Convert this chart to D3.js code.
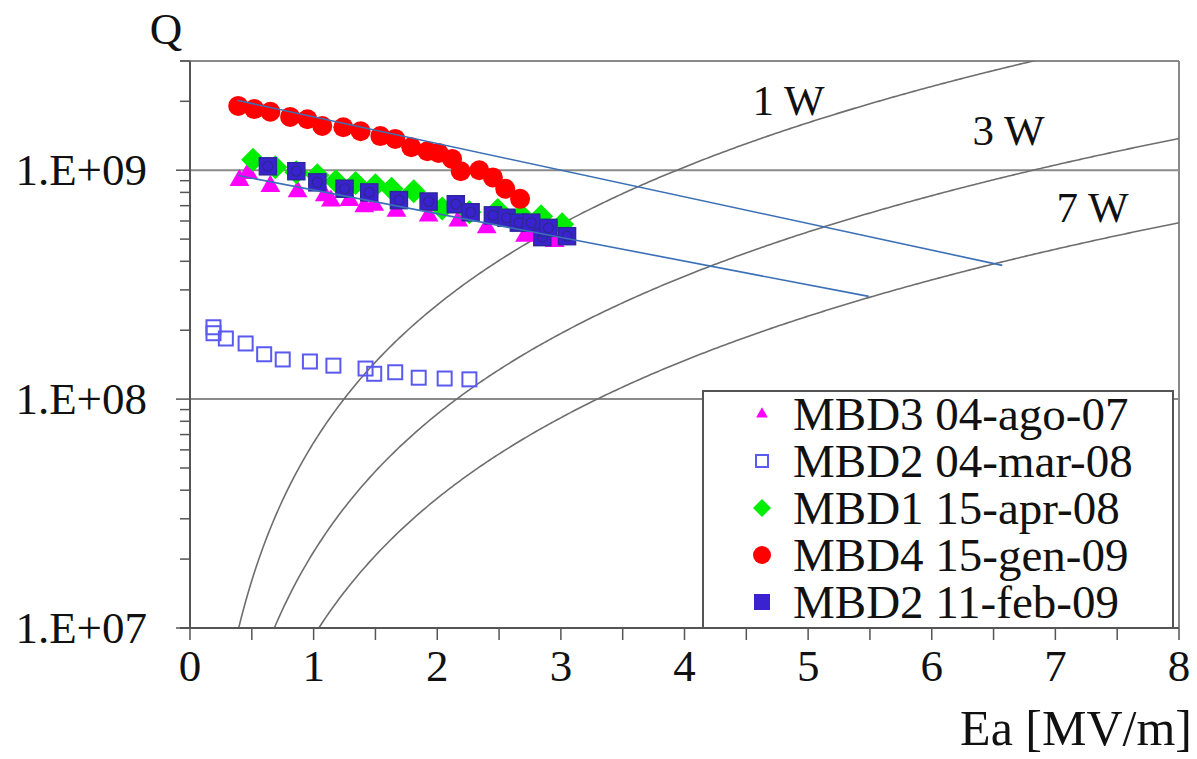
<!DOCTYPE html>
<html>
<head>
<meta charset="utf-8">
<script src="https://cdn.jsdelivr.net/npm/d3@7"></script>
<style>
  body { margin: 0; background: #fff; }
</style>
</head>
<body>
<div id="chart"></div>
<script>
// Series: [Ea (MV/m), Q]
const mbd3_ago07 = [[0.40,8.86e8],[0.47,9.5e8],[0.65,8.34e8],[0.87,7.9e8],[1.09,7.6e8],[1.14,7.2e8],[1.29,7.25e8],[1.41,6.8e8],[1.49,6.9e8],[1.67,6.5e8],[1.93,6.2e8],[2.17,5.9e8],[2.40,5.5e8],[2.71,5.05e8],[2.79,5.2e8],[2.95,4.8e8]];
const mbd2_mar08 = [[0.19,2.06e8],[0.19,1.94e8],[0.29,1.84e8],[0.45,1.75e8],[0.60,1.57e8],[0.75,1.49e8],[0.97,1.46e8],[1.16,1.40e8],[1.42,1.36e8],[1.49,1.29e8],[1.66,1.31e8],[1.85,1.24e8],[2.06,1.23e8],[2.26,1.22e8]];
const mbd1_apr08 = [[0.51,1.11e9],[0.69,1.03e9],[0.86,9.8e8],[1.03,9.5e8],[1.18,8.95e8],[1.34,8.8e8],[1.50,8.6e8],[1.63,8.3e8],[1.81,8.1e8],[2.04,6.8e8],[2.26,6.55e8],[2.49,6.7e8],[2.68,6.35e8],[2.84,6.3e8],[3.01,5.8e8]];
const mbd4_gen09 = [[0.39,1.91e9],[0.52,1.85e9],[0.65,1.80e9],[0.81,1.71e9],[0.95,1.67e9],[1.07,1.56e9],[1.24,1.54e9],[1.38,1.48e9],[1.54,1.41e9],[1.66,1.37e9],[1.79,1.26e9],[1.92,1.21e9],[2.01,1.19e9],[2.12,1.12e9],[2.19,9.9e8],[2.34,1.0e9],[2.45,9.3e8],[2.55,8.3e8],[2.67,7.5e8]];
const mbd2_feb09 = [[0.63,1.04e9],[0.86,9.9e8],[1.03,8.85e8],[1.25,8.3e8],[1.45,8.0e8],[1.69,7.4e8],[1.93,7.3e8],[2.15,7.1e8],[2.27,6.55e8],[2.45,6.35e8],[2.56,6.2e8],[2.66,5.9e8],[2.76,5.9e8],[2.85,5.1e8],[2.90,5.6e8],[3.05,5.15e8]];

// fit lines (end points)
const fitLines = [[[0.38,2.02e9],[6.57,3.84e8]], [[0.38,9.5e8],[5.49,2.81e8]]];

// iso-power curves Q = K * Ea^2 / P
const powers = [1, 3, 7];
const powerLabels = ["1 W", "3 W", "7 W"];
const K = 6.45e7;

const legendNames = ["MBD3 04-ago-07", "MBD2 04-mar-08", "MBD1 15-apr-08", "MBD4 15-gen-09", "MBD2 11-feb-09"];
const xTicks = [0, 1, 2, 3, 4, 5, 6, 7, 8];
const yTicks = [1e7, 1e8, 1e9];
const yTickLabels = ["1.E+07", "1.E+08", "1.E+09"];

const width = 1197, height = 759;
const x = d3.scaleLinear().domain([0, 8]).range([190, 1179]);
const y = d3.scaleLog().domain([1e7, 3e9]).range([628, 61]);

const svg = d3.select("#chart").append("svg")
    .attr("width", width)
    .attr("height", height)
    .attr("font-family", "'Liberation Serif', 'DejaVu Serif', 'Times New Roman', Times, serif")
    .attr("fill", "#111");

svg.append("clipPath").attr("id", "clip")
  .append("rect").attr("x", 190).attr("y", 61).attr("width", 989).attr("height", 567);

// grid lines
svg.selectAll(".grid").data([1e8, 1e9]).enter().append("line")
    .attr("x1", x(0)).attr("x2", x(8))
    .attr("y1", d => y(d)).attr("y2", d => y(d))
    .attr("stroke", "#8a8a8a").attr("stroke-width", 2);

// frame top & right
svg.append("line").attr("x1", 180).attr("x2", x(8)).attr("y1", y(3e9)).attr("y2", y(3e9))
    .attr("stroke", "#8a8a8a").attr("stroke-width", 2);
svg.append("line").attr("x1", x(8)).attr("x2", x(8)).attr("y1", y(3e9)).attr("y2", y(1e7))
    .attr("stroke", "#8a8a8a").attr("stroke-width", 2);

// power curves
const curves = svg.append("g").attr("clip-path", "url(#clip)");
powers.forEach((p, i) => {
  const e0 = Math.sqrt(1e7 * p / K);
  const pts = d3.range(e0, 8.01, 0.02).map(e => [e, K * e * e / p]);
  curves.append("path")
    .datum(pts)
    .attr("fill", "none")
    .attr("stroke", "#6e6e6e")
    .attr("stroke-width", 1.6)
    .attr("d", d3.line().x(d => x(d[0])).y(d => y(d[1])));
});

// power labels
const labelPos = [[4.55, 115], [6.33, 145], [7.01, 222]];
svg.selectAll(".plab").data(powerLabels).enter().append("text")
    .attr("x", (d, i) => x(labelPos[i][0]))
    .attr("y", (d, i) => labelPos[i][1])
    .attr("font-size", 43)
    .text(d => d);

// axes
svg.append("line").attr("x1", x(0)).attr("x2", x(0)).attr("y1", y(3e9)).attr("y2", y(1e7))
    .attr("stroke", "#555").attr("stroke-width", 2);

// y minor ticks
const minor = [];
[1e7, 1e8, 1e9].forEach(b => d3.range(2, 10).forEach(m => { if (b * m <= 3e9) minor.push(b * m); }));
svg.selectAll(".ymin").data(minor).enter().append("line")
    .attr("x1", 180).attr("x2", 190)
    .attr("y1", d => y(d)).attr("y2", d => y(d))
    .attr("stroke", "#555").attr("stroke-width", 1.5);
svg.selectAll(".ymaj").data(yTicks).enter().append("line")
    .attr("x1", 176).attr("x2", 190)
    .attr("y1", d => y(d)).attr("y2", d => y(d))
    .attr("stroke", "#555").attr("stroke-width", 1.5);
svg.selectAll(".ylab").data(yTicks).enter().append("text")
    .attr("x", 147).attr("y", d => y(d) + 15)
    .attr("text-anchor", "end")
    .attr("font-size", 45)
    .text((d, i) => yTickLabels[i]);

// x ticks
svg.selectAll(".xt").data(d3.range(0, 8.01, 0.5)).enter().append("line")
    .attr("x1", d => x(d)).attr("x2", d => x(d))
    .attr("y1", y(1e7)).attr("y2", y(1e7) + 12)
    .attr("stroke", "#555").attr("stroke-width", 1.5);
svg.selectAll(".xlab").data(xTicks).enter().append("text")
    .attr("x", d => x(d)).attr("y", 681)
    .attr("text-anchor", "middle")
    .attr("font-size", 45)
    .text(d => d);

svg.append("text").attr("x", 166).attr("y", 44).attr("text-anchor", "middle")
    .attr("font-size", 45).text("Q");
svg.append("text").attr("x", 1192).attr("y", 745).attr("text-anchor", "end")
    .attr("font-size", 50).text("Ea [MV/m]");

// marker drawers
const sym = (type, size) => d3.symbol().type(type).size(size);
const styles = [
  { data: mbd3_ago07, draw: g => g.append("path").attr("d", sym(d3.symbolTriangle, 170)()).attr("transform", "translate(0,-2)").attr("fill", "#ff00ff") },
  { data: mbd2_mar08, draw: g => g.append("rect").attr("x", -7).attr("y", -7).attr("width", 14).attr("height", 14).attr("fill", "none").attr("stroke", "#5a5af0").attr("stroke-width", 2) },
  { data: mbd1_apr08, draw: g => g.append("path").attr("d", "M0,-12L12,0L0,12L-12,0Z").attr("fill", "#00ee00") },
  { data: mbd4_gen09, draw: g => g.append("circle").attr("r", 10).attr("fill", "#ff0000") },
  { data: mbd2_feb09, draw: g => {
      g.append("rect").attr("x", -8.5).attr("y", -8.5).attr("width", 17).attr("height", 17).attr("fill", "#3a22d0").attr("stroke", "#2c2a9a").attr("stroke-width", 1.5);
      g.append("circle").attr("r", 5).attr("fill", "none").attr("stroke", "#2a2a88").attr("stroke-width", 1.2);
    } }
];

styles.forEach(s => {
  svg.append("g").selectAll("g").data(s.data).enter().append("g")
    .attr("transform", d => `translate(${x(d[0])},${y(d[1])})`)
    .each(function () { s.draw(d3.select(this)); });
});

// fit lines
svg.selectAll(".fit").data(fitLines).enter().append("line")
    .attr("x1", d => x(d[0][0])).attr("y1", d => y(d[0][1]))
    .attr("x2", d => x(d[1][0])).attr("y2", d => y(d[1][1]))
    .attr("stroke", "#3b6fb6").attr("stroke-width", 1.6);

// legend
const lg = svg.append("g");
lg.append("rect").attr("x", 703).attr("y", 391).attr("width", 470).attr("height", 237)
    .attr("fill", "#fff").attr("stroke", "#555").attr("stroke-width", 2);
const legendMarkers = [
  g => g.append("path").attr("d", sym(d3.symbolTriangle, 60)()).attr("fill", "#ff00ff"),
  g => g.append("rect").attr("x", -6).attr("y", -6).attr("width", 12).attr("height", 12).attr("fill", "none").attr("stroke", "#5a5af0").attr("stroke-width", 2),
  g => g.append("path").attr("d", "M0,-9L9,0L0,9L-9,0Z").attr("fill", "#00ee00"),
  g => g.append("circle").attr("r", 9).attr("fill", "#ff0000"),
  g => g.append("rect").attr("x", -8).attr("y", -8).attr("width", 16).attr("height", 16).attr("fill", "#3a22d0")
];
legendNames.forEach((name, i) => {
  const cy = 414 + i * 47;
  const g = lg.append("g").attr("transform", `translate(762,${cy})`);
  legendMarkers[i](g);
  lg.append("text").attr("x", 793).attr("y", cy + 16).attr("font-size", 47).text(name);
});

// x axis line, drawn last so it sits over the legend bottom
svg.append("line").attr("x1", 180).attr("x2", x(8)).attr("y1", y(1e7)).attr("y2", y(1e7))
    .attr("stroke", "#555").attr("stroke-width", 2);
</script>
</body>
</html>
